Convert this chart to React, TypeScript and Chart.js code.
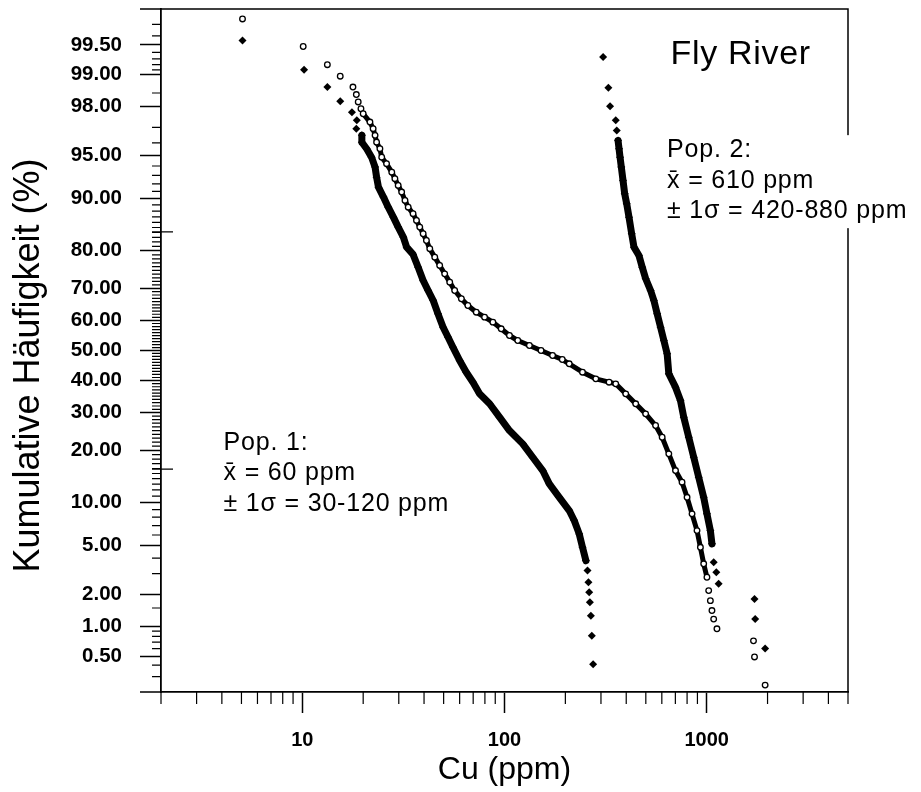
import React, { useEffect, useRef } from 'react';
import { Chart, registerables, LinearScale } from 'chart.js';

Chart.register(...registerables);

// ---------------- data ----------------
// Whole sample (open circles)
const allCu = [5.06, 10.1, 13.3, 15.4, 17.8, 18.5, 18.9, 19.5, 20.0, 21.6, 22.4, 22.9, 23.3, 24.2, 24.7, 26.1, 27.7, 28.7, 29.8, 31.0, 32.2, 33.4, 35.3, 36.7, 38.1, 39.6, 41.1, 42.7, 45.2, 47.8, 50.6, 53.6, 56.7, 61.2, 65.9, 72.5, 79.7, 87.6, 96.3, 105.8, 116.3, 132.8, 151.6, 172.9, 193.1, 209.0, 243.1, 282.9, 329.0, 354.9, 397.7, 445.6, 498.9, 558.9, 602.3, 649.7, 701.1, 755.4, 799.8, 846.4, 895.7, 931.1, 966.5, 1003, 1023, 1043, 1062, 1083, 1124, 1704, 1724, 1946];
const allPct = [99.74, 99.48, 99.20, 98.96, 98.68, 98.45, 98.19, 97.92, 97.70, 97.29, 96.92, 96.51, 96.04, 95.55, 94.84, 94.23, 93.36, 92.62, 91.79, 90.91, 89.70, 88.65, 87.55, 86.35, 85.08, 83.74, 82.31, 80.45, 78.43, 76.33, 74.09, 71.77, 69.35, 66.86, 64.77, 62.66, 61.06, 59.44, 57.26, 55.03, 53.36, 51.68, 50.00, 48.32, 46.97, 45.54, 42.74, 40.56, 39.47, 38.94, 35.75, 32.67, 29.67, 26.36, 23.24, 19.19, 15.58, 13.35, 10.80, 8.43, 6.45, 4.86, 3.61, 2.80, 2.15, 1.75, 1.42, 1.18, 0.95, 0.72, 0.49, 0.24];

// Population 1 (filled diamonds)
const pop1Cu = [5.06, 10.2, 13.3, 15.4, 17.6, 18.6, 18.5, 19.7, 19.7, 20.8, 22.0, 22.9, 23.3, 23.8, 25.2, 26.6, 28.2, 29.8, 31.6, 32.8, 35.3, 37.4, 39.6, 41.9, 44.4, 46.9, 49.7, 52.6, 55.6, 60.0, 64.7, 69.8, 75.3, 84.4, 94.5, 105.8, 123.1, 137.9, 154.5, 166.6, 186.6, 209.0, 221.2, 234.2, 243.1, 252.7, 257.3, 260.2, 262.3, 264.4, 267.4, 270.4, 274.4];
const pop1Pct = [99.55, 99.10, 98.68, 98.22, 97.77, 97.38, 96.92, 96.51, 96.04, 95.55, 94.84, 93.89, 92.80, 91.57, 90.20, 88.65, 86.95, 85.08, 83.03, 80.81, 79.09, 75.87, 72.24, 69.35, 66.33, 62.14, 57.77, 54.46, 51.11, 46.64, 42.74, 39.47, 35.75, 32.67, 28.71, 24.99, 21.57, 18.41, 15.58, 13.05, 10.80, 8.87, 7.59, 6.11, 4.86, 3.83, 3.18, 2.54, 2.08, 1.69, 1.27, 0.81, 0.41];

// Population 2 (filled diamonds)
const pop2Cu = [307.5, 326.4, 332.8, 354.9, 359.1, 364.4, 368.6, 372.8, 378.3, 385.7, 393.1, 402.1, 412.8, 425.6, 436.9, 462.4, 480.1, 498.9, 528.1, 548.2, 569.1, 591.5, 614.1, 637.5, 649.7, 701.1, 742.0, 770.1, 815.3, 863.0, 913.1, 966.5, 1003, 1043, 1062, 1083, 1116, 1146, 1724, 1737, 1946];
const pop2Pct = [99.33, 98.66, 98.02, 97.38, 96.82, 96.17, 95.55, 94.84, 93.89, 92.41, 90.68, 89.20, 86.95, 83.74, 80.81, 78.84, 75.87, 72.81, 69.35, 66.33, 62.14, 57.77, 53.36, 48.89, 42.23, 37.86, 33.67, 28.71, 23.24, 18.41, 14.27, 10.80, 8.43, 6.45, 5.16, 3.71, 3.08, 2.46, 1.81, 1.18, 0.60];

// Axis ticks
const yTickValues = [0.5, 1, 2, 5, 10, 20, 30, 40, 50, 60, 70, 80, 90, 95, 98, 99, 99.5];
const yRange = [0.2, 99.8];
const yMinorTicks = [
  0.3, 0.4, 0.6, 0.7, 0.8, 0.9, 1.5, 3, 4, 6, 7, 8, 9,
  11, 12, 13, 14, 15, 16, 17, 18, 19, 21, 22, 23, 24, 25, 26, 27, 28, 29,
  31, 32, 33, 34, 35, 36, 37, 38, 39, 41, 42, 43, 44, 45, 46, 47, 48, 49,
  51, 52, 53, 54, 55, 56, 57, 58, 59, 61, 62, 63, 64, 65, 66, 67, 68, 69,
  71, 72, 73, 74, 75, 76, 77, 78, 79, 81, 82, 83, 84, 85, 86, 87, 88, 89,
  91, 92, 93, 94, 96, 97, 98.5, 99.1, 99.2, 99.3, 99.4, 99.6, 99.7,
];
const sigmaMarks = [15.87, 84.13];
const xTickValues = [10, 100, 1000];
const xRange = [2, 5000];
const xMinorTicks = [2, 3, 4, 5, 6, 7, 8, 9, 20, 30, 40, 50, 60, 70, 80, 90, 200, 300, 400, 500, 600, 700, 800, 900, 2000, 3000, 4000, 5000];

// Texts
const xTitle = 'Cu (ppm)';
const yTitle = 'Kumulative Häufigkeit (%)';
const riverName = 'Fly River';
const pop1Lines = ['Pop. 1:', 'x\u0304 = 60 ppm', '\u00B1 1\u03C3 = 30-120 ppm'];
const pop2Lines = ['Pop. 2:', 'x\u0304 = 610 ppm', '\u00B1 1\u03C3 = 420-880 ppm'];
// Annotation anchors in data units (Cu ppm, cumulative %)
const riverAnchor = { x: 662, y: 99.22 };
const pop1Anchor = { x: 4.08, y: 20.2 };
const pop2Anchor = { x: 637, y: 94.84 };

// Index ranges where the measured points are so dense that they merge into a band
const allDense = [8, 63];
const pop1Dense = [7, 45];
const pop2Dense = [5, 34];

const FONT = "'Liberation Sans', Arial, Helvetica, sans-serif";

// ---------------- normal probability helpers ----------------
function probit(p: number): number {
  const a = [-3.969683028665376e1, 2.209460984245205e2, -2.759285104469687e2, 1.38357751867269e2, -3.066479806614716e1, 2.506628277459239];
  const b = [-5.447609879822406e1, 1.615858368580409e2, -1.556989798598866e2, 6.680131188771972e1, -1.328068155288572e1];
  const c = [-7.784894002430293e-3, -3.223964580411365e-1, -2.400758277161838, -2.549732539343734, 4.374664141464968, 2.938163982698783];
  const d = [7.784695709041462e-3, 3.224671290700398e-1, 2.445134137142996, 3.754408661907416];
  const pl = 0.02425;
  const ph = 1 - pl;
  if (p < pl) {
    const q = Math.sqrt(-2 * Math.log(p));
    return (((((c[0] * q + c[1]) * q + c[2]) * q + c[3]) * q + c[4]) * q + c[5]) / ((((d[0] * q + d[1]) * q + d[2]) * q + d[3]) * q + 1);
  }
  if (p > ph) {
    const q = Math.sqrt(-2 * Math.log(1 - p));
    return -(((((c[0] * q + c[1]) * q + c[2]) * q + c[3]) * q + c[4]) * q + c[5]) / ((((d[0] * q + d[1]) * q + d[2]) * q + d[3]) * q + 1);
  }
  const q = p - 0.5;
  const r = q * q;
  return ((((((a[0] * r + a[1]) * r + a[2]) * r + a[3]) * r + a[4]) * r + a[5]) * q) / (((((b[0] * r + b[1]) * r + b[2]) * r + b[3]) * r + b[4]) * r + 1);
}

function normCdf(z: number): number {
  const t = 1 / (1 + 0.3275911 * Math.abs(z) / Math.SQRT2);
  const y = 1 - (((((1.061405429 * t - 1.453152027) * t) + 1.421413741) * t - 0.284496736) * t + 0.254829592) * t * Math.exp(-(z * z) / 2);
  return z >= 0 ? 0.5 * (1 + y) : 0.5 * (1 - y);
}

// Probability (normal-quantile) axis for cumulative percentages
class ProbabilityScale extends (LinearScale as any) {
  static id = 'probability';
  static defaults = { ticks: { callback: (v: number) => String(v) } };

  determineDataLimits() {
    const self = this as any;
    self.min = self.options.min;
    self.max = self.options.max;
  }

  buildTicks() {
    const self = this as any;
    self.start = self.min;
    self.end = self.max;
    return yTickValues.map((v) => ({ value: v }));
  }

  configure() {
    super.configure();
    const self = this as any;
    self._zMin = probit(self.min / 100);
    self._zMax = probit(self.max / 100);
  }

  getPixelForValue(value: number) {
    const self = this as any;
    const p = Math.min(Math.max(value / 100, 1e-7), 1 - 1e-7);
    return self.getPixelForDecimal((probit(p) - self._zMin) / (self._zMax - self._zMin));
  }

  getValueForPixel(pixel: number) {
    const self = this as any;
    const dec = self.getDecimalForPixel(pixel);
    return normCdf(self._zMin + dec * (self._zMax - self._zMin)) * 100;
  }
}
Chart.register(ProbabilityScale as any);

function denseSegment(range: number[]) {
  return (ctx: any) =>
    ctx.p0DataIndex >= range[0] && ctx.p1DataIndex <= range[1] ? '#000' : 'rgba(0,0,0,0)';
}

const decorPlugin = {
  id: 'decor',
  afterDraw(chart: any) {
    const { ctx, chartArea: ca, scales } = chart;
    const x = scales.x;
    const y = scales.y;
    ctx.save();
    ctx.strokeStyle = '#000';
    ctx.lineWidth = 1.5;
    ctx.beginPath();
    // frame (top and right)
    ctx.moveTo(ca.left, ca.top);
    ctx.lineTo(ca.right, ca.top);
    ctx.lineTo(ca.right, ca.bottom);
    // long ticks at the range ends of the probability axis
    for (const v of yRange) {
      const py = y.getPixelForValue(v);
      ctx.moveTo(ca.left - 21, py);
      ctx.lineTo(ca.left, py);
    }
    ctx.stroke();

    ctx.lineWidth = 1.2;
    ctx.beginPath();
    for (const v of yMinorTicks) {
      const py = y.getPixelForValue(v);
      ctx.moveTo(ca.left - 9, py);
      ctx.lineTo(ca.left, py);
    }
    for (const v of xMinorTicks) {
      const px = x.getPixelForValue(v);
      ctx.moveTo(px, ca.bottom);
      ctx.lineTo(px, ca.bottom + 12);
    }
    for (const v of sigmaMarks) {
      const py = y.getPixelForValue(v);
      ctx.moveTo(ca.left - 9, py);
      ctx.lineTo(ca.left + 12, py);
    }
    ctx.stroke();

    // y-axis title (rotated), sitting slightly below the plot's middle as in the original
    ctx.fillStyle = '#000';
    ctx.save();
    ctx.translate(29, (ca.top + ca.bottom) / 2 + 15);
    ctx.rotate(-Math.PI / 2);
    ctx.textAlign = 'center';
    ctx.textBaseline = 'middle';
    ctx.font = `36px ${FONT}`;
    ctx.fillText(yTitle, 0, 0);
    ctx.restore();

    // annotations
    ctx.textAlign = 'left';
    ctx.textBaseline = 'alphabetic';
    (ctx as any).letterSpacing = '0.7px';
    ctx.font = `34px ${FONT}`;
    ctx.fillText(riverName, x.getPixelForValue(riverAnchor.x), y.getPixelForValue(riverAnchor.y));
    (ctx as any).letterSpacing = '0.8px';
    ctx.font = `25px ${FONT}`;
    const lineGap = 30.5;
    const drawLines = (lines: string[], anchor: { x: number; y: number }) => {
      const px = x.getPixelForValue(anchor.x);
      const py = y.getPixelForValue(anchor.y);
      // white backing, as the text block masks the frame in the original
      const w = Math.max(...lines.map((t) => ctx.measureText(t).width));
      ctx.fillStyle = '#fff';
      ctx.fillRect(px - 3, py - 22, w + 6, (lines.length - 1) * lineGap + 32);
      ctx.fillStyle = '#000';
      lines.forEach((t, i) => ctx.fillText(t, px, py + i * lineGap));
    };
    drawLines(pop1Lines, pop1Anchor);
    drawLines(pop2Lines, pop2Anchor);
    (ctx as any).letterSpacing = '0px';
    ctx.restore();
  },
};

export default function App() {
  const canvasRef = useRef<HTMLCanvasElement | null>(null);

  useEffect(() => {
    const canvas = canvasRef.current;
    if (!canvas) return;

    const chart = new Chart(canvas, {
      type: 'scatter',
      data: {
        datasets: [
          {
            label: 'Gesamt',
            data: allCu.map((c, i) => ({ x: c, y: allPct[i] })),
            showLine: true,
            tension: 0,
            borderColor: '#000',
            borderWidth: 5,
            borderCapStyle: 'round',
            borderJoinStyle: 'round',
            segment: { borderColor: denseSegment(allDense) },
            pointStyle: 'circle',
            pointRadius: 2.8,
            pointBorderWidth: 1.3,
            pointBorderColor: '#000',
            pointBackgroundColor: '#fff',
          },
          {
            label: 'Pop. 1',
            data: pop1Cu.map((c, i) => ({ x: c, y: pop1Pct[i] })),
            showLine: true,
            tension: 0,
            borderColor: '#000',
            borderWidth: 7,
            borderCapStyle: 'round',
            borderJoinStyle: 'round',
            segment: { borderColor: denseSegment(pop1Dense) },
            pointStyle: 'rectRot',
            pointRadius: 4,
            pointBorderWidth: 0,
            pointBorderColor: '#000',
            pointBackgroundColor: '#000',
          },
          {
            label: 'Pop. 2',
            data: pop2Cu.map((c, i) => ({ x: c, y: pop2Pct[i] })),
            showLine: true,
            tension: 0,
            borderColor: '#000',
            borderWidth: 7,
            borderCapStyle: 'round',
            borderJoinStyle: 'round',
            segment: { borderColor: denseSegment(pop2Dense) },
            pointStyle: 'rectRot',
            pointRadius: 4,
            pointBorderWidth: 0,
            pointBorderColor: '#000',
            pointBackgroundColor: '#000',
          },
        ],
      },
      options: {
        animation: false,
        responsive: false,
        events: [],
        layout: { padding: { left: 0, top: 9, right: 73, bottom: 0 } },
        plugins: {
          legend: { display: false },
          tooltip: { enabled: false },
        },
        scales: {
          x: {
            type: 'logarithmic',
            min: xRange[0],
            max: xRange[1],
            afterBuildTicks: (scale: any) => {
              scale.ticks = xTickValues.map((v) => ({ value: v }));
            },
            afterFit: (scale: any) => {
              scale.height = 100;
              scale.paddingLeft = 0;
              scale.paddingRight = 0;
            },
            grid: {
              drawOnChartArea: false,
              drawTicks: true,
              tickLength: 21,
              color: '#000',
              tickWidth: 1.5,
            },
            border: { display: true, color: '#000', width: 1.8 },
            ticks: {
              autoSkip: false,
              maxRotation: 0,
              padding: 15,
              color: '#000',
              font: { family: FONT, size: 20, weight: 'bold' },
              callback: (v: any) => String(v),
            },
            title: {
              display: true,
              text: xTitle,
              color: '#000',
              font: { family: FONT, size: 32 },
              padding: { top: 0, bottom: 3 },
            },
          },
          y: {
            type: 'probability' as any,
            min: yRange[0],
            max: yRange[1],
            afterFit: (scale: any) => {
              scale.width = 161;
              scale.paddingTop = 0;
              scale.paddingBottom = 0;
            },
            grid: {
              drawOnChartArea: false,
              drawTicks: true,
              tickLength: 21,
              color: '#000',
              tickWidth: 1.5,
            },
            border: { display: true, color: '#000', width: 1.8 },
            ticks: {
              autoSkip: false,
              padding: 18,
              color: '#000',
              font: { family: FONT, size: 20.5, weight: 'bold' },
              callback: (v: any) => Number(v).toFixed(2),
            },
            title: { display: false },
          } as any,
        },
      } as any,
      plugins: [decorPlugin],
    });

    return () => chart.destroy();
  }, []);

  return (
    <div style={{ position: 'absolute', left: 0, top: 0, width: 921, height: 792, background: '#fff' }}>
      <canvas ref={canvasRef} width={921} height={792} style={{ display: 'block' }} />
    </div>
  );
}
